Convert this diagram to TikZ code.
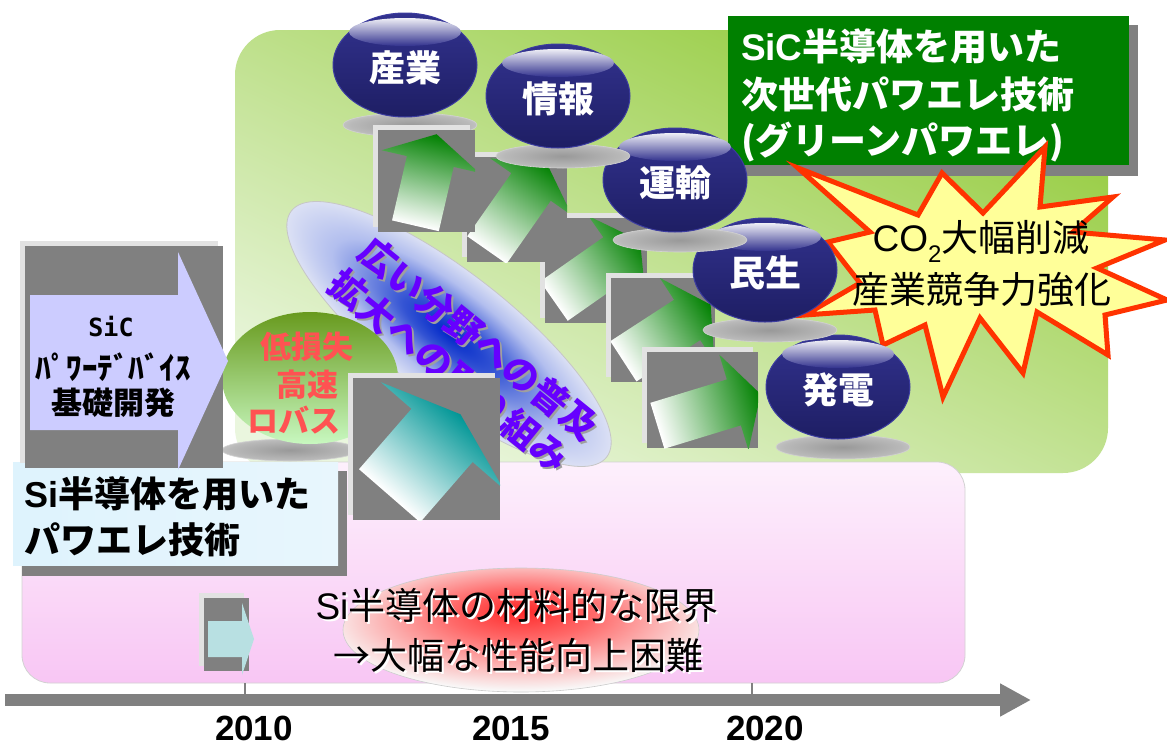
\documentclass[tikz,border=0pt]{standalone}
\usepackage{fontspec}
\setmainfont{Noto Sans CJK JP}
\newfontfamily\latin{Liberation Sans}
\newfontfamily\monolatin{DejaVu Sans Mono}
\usetikzlibrary{arrows.meta}

\definecolor{bgTop}{RGB}{150,204,64}
\definecolor{bgBottom}{RGB}{234,246,222}
\definecolor{pinkTop}{RGB}{253,240,252}
\definecolor{pinkBottom}{RGB}{248,198,244}
\definecolor{panelDark}{RGB}{128,128,128}
\definecolor{panelLight}{RGB}{226,226,226}
\definecolor{titleGreen}{RGB}{0,128,0}
\definecolor{starFill}{RGB}{255,255,153}
\definecolor{starLine}{RGB}{255,51,0}
\definecolor{navyTop}{RGB}{50,50,142}
\definecolor{navyBot}{RGB}{30,30,100}
\definecolor{navyRim}{RGB}{60,60,160}
\definecolor{arrowGreen}{RGB}{0,128,0}
\definecolor{tealTip}{RGB}{0,150,150}
\definecolor{lavender}{RGB}{204,204,255}
\definecolor{siLeft}{RGB}{222,243,253}
\definecolor{siMid}{RGB}{198,230,250}
\definecolor{siRight}{RGB}{232,246,253}
\definecolor{oliveTop}{RGB}{104,154,30}
\definecolor{paleGreen}{RGB}{200,248,192}
\definecolor{lossRed}{RGB}{255,82,82}
\definecolor{spreadPurple}{RGB}{102,0,255}
\definecolor{coreBlue}{RGB}{0,40,200}
\definecolor{coreRed}{RGB}{255,40,40}
\definecolor{smallArrow}{RGB}{184,224,226}
\definecolor{axisGrey}{RGB}{128,128,128}

% soft grey "floor shadow" under the glossy buttons
\pgfdeclareradialshading{smudge}{\pgfpoint{0bp}{0bp}}{%
  color(0bp)=(gray!80); color(22bp)=(gray!55); color(40bp)=(gray!18); color(50bp)=(white)}
% blue glow behind the rotated caption
\pgfdeclareradialshading{bluecore}{\pgfpoint{0bp}{0bp}}{%
  color(0bp)=(coreBlue); color(7bp)=(coreBlue!80!white); color(18bp)=(coreBlue!30!white);
  color(30bp)=(white!95!gray); color(50bp)=(white!96!gray)}
% red glow behind the Si limit text
\pgfdeclareradialshading{redcore}{\pgfpoint{0bp}{8bp}}{%
  color(0bp)=(coreRed); color(10bp)=(coreRed!70!white); color(28bp)=(white!95!gray);
  color(50bp)=(gray!14)}

\newcommand\fs[1]{\fontsize{#1}{#1}\selectfont}

% grey picture panel: light frame offset up-left, dark panel on top
\newcommand\panel[4]{%
  \fill[panelLight] ({#1-5},{#2-5}) rectangle ({#3-5},{#4-5});
  \fill[panelDark] (#1,#2) rectangle (#3,#4);}

% block arrow: centre x, centre y, angle, length, body width, head width, head length, tip colour
\newcommand\blockarrow[8]{%
  \begin{scope}[transform canvas={shift={(#1,#2)},rotate=#3}]
    \shade[left color=white, right color=#8]
      ({-#4/2},{-#5/2}) -- ({#4/2-#7},{-#5/2}) -- ({#4/2-#7},{-#6/2}) -- ({#4/2},0)
      -- ({#4/2-#7},{#6/2}) -- ({#4/2-#7},{#5/2}) -- ({-#4/2},{#5/2}) -- cycle;
  \end{scope}}

% panel with a green arrow: x1 y1 x2 y2, centre x, centre y, angle, length
\newcommand\arrowpanel[8]{%
  \panel{#1}{#2}{#3}{#4}
  \begin{scope}
    \clip (#1,#2) rectangle (#3,#4);
    \blockarrow{#5}{#6}{#7}{#8}{48}{100}{28}{arrowGreen}
  \end{scope}}

% glossy navy button with its floor shadow: name, cx, cy, label
\newcommand\gbutton[4]{%
  \shade[shading=smudge, draw=gray!35, line width=0.6pt] ({#2+5},{#3+60}) ellipse [x radius=67, y radius=12];
  \shade[top color=navyTop, bottom color=navyBot, draw=navyRim, line width=1pt] (#2,#3) ellipse [x radius=72, y radius=52];
  \shade[top color=white!92!navyTop, bottom color=navyTop] (#2,{#3-33}) ellipse [x radius=56, y radius=14];
  \node[btnlabel] (#1) at (#2,{#3+3}) {#4};}

\tikzset{
  every node/.style={inner sep=0pt, outer sep=0pt},
  btnlabel/.style={text=white, font=\fs{36}\bfseries},
  yearlabel/.style={font=\latin\bfseries\fs{35}},
  titletext/.style={text=white, font=\fs{37}\bfseries, anchor=west},
  bursttext/.style={font=\fs{37}},
  limittext/.style={font=\fs{37}},
  spreadtext/.style={text=spreadPurple, font=\fs{37}\bfseries, rotate=-39},
  losstext/.style={text=lossRed, font=\fs{31}\bfseries},
  sitext/.style={font=\fs{36}\bfseries, anchor=west},
  sictext/.style={font=\fs{31}\bfseries},
  tickline/.style={draw=axisGrey, line width=2pt},
}

\begin{document}
\begin{tikzpicture}[x=1pt,y=-1pt]
\useasboundingbox (0,0) rectangle (1167,747);
\fill[white] (0,0) rectangle (1167,747);

% green field of next-generation applications
\shade[top color=bgTop, bottom color=bgBottom, shading angle=-25, rounded corners=45]
  (235,30) rectangle (1108,473);

% pink field of conventional Si technology
\shade[top color=pinkTop, bottom color=pinkBottom, draw=gray!35, line width=0.8pt, rounded corners=28]
  (22,462) rectangle (965,683);

% Si material limit
\shade[shading=redcore, draw=gray!40, line width=0.6pt] (521,630) ellipse [x radius=178, y radius=62];
\node[limittext, text=white] (lim1s) at (519,607) {{\latin Si}半導体の材料的な限界};
\node[limittext] (lim1) at (517,605) {{\latin Si}半導体の材料的な限界};
\node[limittext, text=white] (lim2s) at (520,657) {→大幅な性能向上困難};
\node[limittext] (lim2) at (518,655) {→大幅な性能向上困難};

% small arrow panel
\panel{204}{598}{249}{671}
\fill[smallArrow] (208,621) -- (242,621) -- (242,603) -- (254,639) -- (242,675) -- (242,657) -- (208,657) -- cycle;

% time axis
\draw[tickline] (245,683) -- (245,695);
\draw[tickline] (752,683) -- (752,695);
\coordinate (axisStart) at (5,700);
\coordinate (axisEnd) at (1031,700);
\draw[axisGrey, line width=12pt, -{Triangle[length=31pt,width=31pt]}] (axisStart) -- (axisEnd);
\node[yearlabel] (y2010) at (254,728) {2010};
\node[yearlabel] (y2015) at (511,728) {2015};
\node[yearlabel] (y2020) at (765,728) {2020};

% title box
\fill[panelDark] (737,25) rectangle (1138,176);
\fill[titleGreen] (728,16) rectangle (1129,165);
\node[titletext] (title1) at (741,46) {{\latin SiC}半導体を用いた};
\node[titletext] (title2) at (741,94) {次世代パワエレ技術};
\node[titletext] (title3) at (741,142) {(グリーンパワエレ)};

% explosion with the benefits
\draw[fill=starFill, draw=starLine, line width=5pt, line join=miter]
  (798,168) -- (918,215) -- (942,173) -- (983,213) -- (1045,147) -- (1040,207)
  -- (1113,197) -- (1073,232) -- (1165,240) -- (1097,268) -- (1167,300) -- (1105,315)
  -- (1108,355) -- (1037,312) -- (1023,373) -- (980,318) -- (943,397) -- (925,325)
  -- (883,345) -- (875,310) -- (805,315) -- (860,283) -- (828,242) -- (870,232) -- cycle;
\node[bursttext] (co2) at (981,241) {{\latin CO\raisebox{-0.3em}{\fs{24}2}}大幅削減};
\node[bursttext] (compete) at (982,290) {産業競争力強化};

% rotated caption on a blue glow
\begin{scope}[transform canvas={shift={(449,334)},rotate=-38}]
  \shade[shading=bluecore, draw=gray!45, line width=0.8pt] (0,0) ellipse [x radius=200, y radius=62];
\end{scope}
\node[spreadtext, text=gray!75] (spread1s) at (481,341) {広い分野への普及};
\node[spreadtext] (spread1) at (479,339) {広い分野への普及};
\node[spreadtext, text=gray!75] (spread2s) at (451,373) {拡大への取り組み};
\node[spreadtext] (spread2) at (449,371) {拡大への取り組み};

% device features
\shade[shading=smudge, draw=gray!35, line width=0.6pt] (290,450) ellipse [x radius=68, y radius=11];
\shade[top color=oliveTop, bottom color=paleGreen] (310,378) ellipse [x radius=88, y radius=66];
\node[losstext] (loss1) at (307,347) {低損失};
\node[losstext] (loss2) at (307,385) {高速};
\node[losstext, anchor=west] (loss3) at (247,420) {ロバス};

% teal arrow panel
\panel{353}{378}{500}{520}
\begin{scope}
  \clip (353,378) rectangle (500,520);
  \blockarrow{425}{455}{49}{108}{81}{162}{28}{tealTip}
\end{scope}

% Si power electronics box
\fill[panelDark] (22,471) rectangle (347,576);
\shade[left color=siLeft, middle color=siMid, right color=siRight] (13,462) rectangle (338,565);
\node[sitext] (si1) at (24,494) {{\latin Si}半導体を用いた};
\node[sitext] (si2) at (24,540) {パワエレ技術};

% SiC device development arrow
\panel{25}{246}{223}{468}
\fill[lavender] (30,295) -- (178,295) -- (178,252) -- (228,361) -- (178,470) -- (178,430) -- (30,430) -- cycle;
\node[font=\monolatin\bfseries\fs{25}] (sic1) at (111,327) {SiC};
\node[sictext] (sic2) at (113,367) {ﾊﾟﾜｰﾃﾞﾊﾞｲｽ};
\node[sictext] (sic3) at (113,403) {基礎開発};

% green arrow panels towards the application fields
\arrowpanel{545}{218}{647}{323}{597}{271}{35}{105}
\arrowpanel{467}{157}{567}{262}{517}{207}{55}{105}
\arrowpanel{611}{278}{715}{382}{667}{333}{33}{104}
\arrowpanel{647}{352}{758}{448}{709}{410}{17}{108}

% application fields
\gbutton{power}{838}{387}{発電}
\gbutton{consumer}{765}{270}{民生}
\gbutton{transport}{675}{180}{運輸}
\gbutton{info}{558}{96}{情報}
\gbutton{industry}{405}{65}{産業}

\arrowpanel{378}{130}{475}{232}{426}{180}{77}{94}
\end{tikzpicture}
\end{document}
